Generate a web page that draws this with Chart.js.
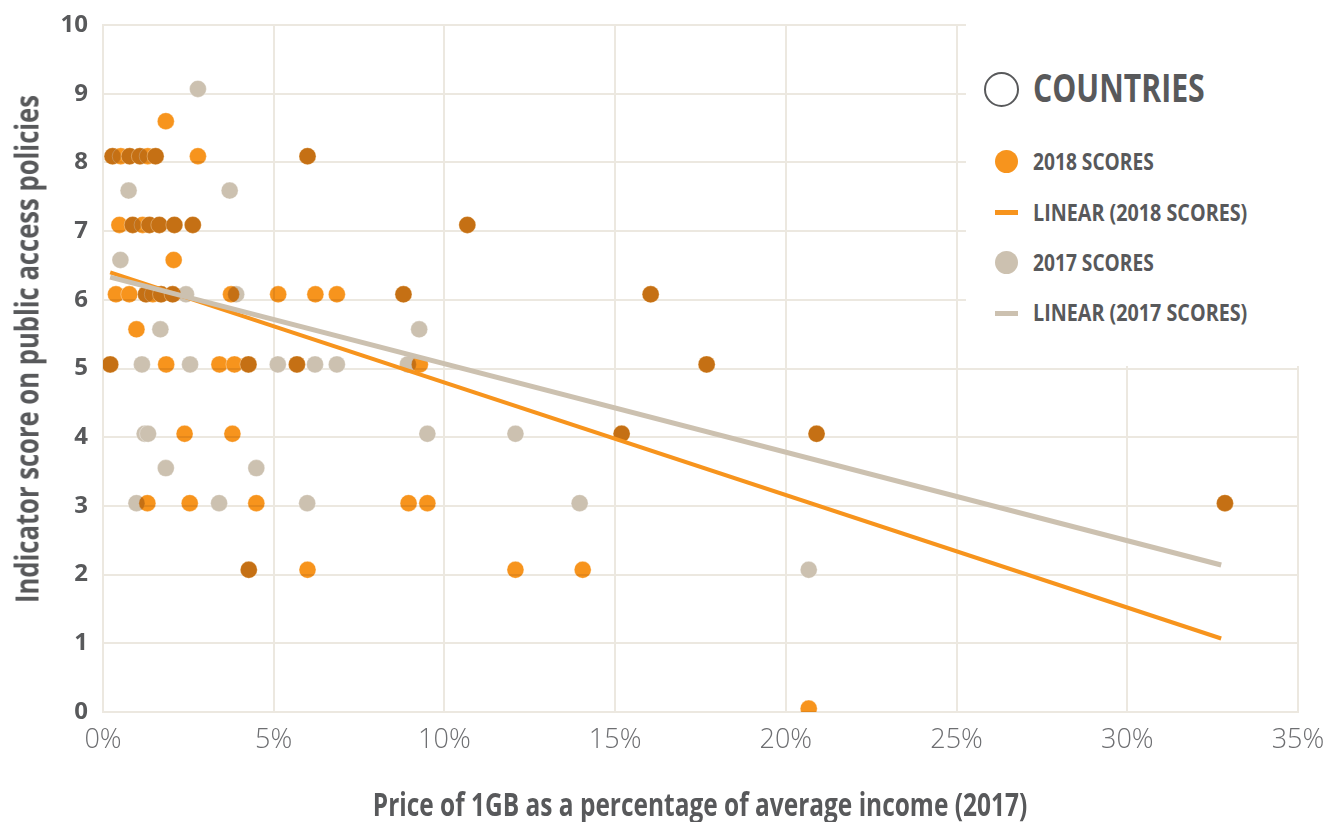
<!DOCTYPE html>
<html>
<head>
<meta charset="utf-8">
<script src="https://cdn.jsdelivr.net/npm/chart.js@4/dist/chart.umd.min.js"></script>
<style>
  html, body { margin: 0; padding: 0; background: #fff; }
  #wrap { position: relative; width: 1330px; height: 822px; background: #fff; overflow: hidden; }
  #wrap canvas { position: absolute; left: 0; top: 0; }
  #blend { mix-blend-mode: multiply; }
  .txt { position: absolute; white-space: nowrap; font-family: 'Open Sans', 'DejaVu Sans', sans-serif;
         font-weight: 700; color: #58595B; line-height: 1; }
  .leg { transform-origin: left center; }
  #legendBox { position: absolute; left: 966px; top: 18px; width: 334px; height: 348px; background: #fff; }
  .ico { position: absolute; box-sizing: border-box; }
</style>
</head>
<body>
<div id="wrap">
  <canvas id="base" width="1330" height="822"></canvas>
  <canvas id="blend" width="1330" height="822"></canvas>
  <canvas id="lines" width="1330" height="822"></canvas>

  <div id="legendBox"></div>
  <div class="ico" style="left:984px;top:71.7px;width:35px;height:35px;border:2.7px solid #58595B;border-radius:50%"></div>
  <div class="txt leg" data-w="172" style="left:1032.7px;top:66.8px;font-size:39px">COUNTRIES</div>

  <div class="ico" style="left:995.2px;top:150.2px;width:23px;height:23px;background:#F7941D;border-radius:50%"></div>
  <div class="txt leg" data-w="121" style="left:1032.7px;top:151.1px;font-size:22.5px">2018 SCORES</div>

  <div class="ico" style="left:995px;top:210.2px;width:23px;height:5px;background:#F7941D"></div>
  <div class="txt leg" data-w="214" style="left:1032.7px;top:201.8px;font-size:22.5px">LINEAR (2018 SCORES)</div>

  <div class="ico" style="left:995.2px;top:251.2px;width:23px;height:23px;background:#CCC1B0;border-radius:50%"></div>
  <div class="txt leg" data-w="121" style="left:1032.7px;top:252.1px;font-size:22.5px">2017 SCORES</div>

  <div class="ico" style="left:995px;top:310.8px;width:23px;height:5px;background:#CCC1B0"></div>
  <div class="txt leg" data-w="214" style="left:1032.7px;top:301.8px;font-size:22.5px">LINEAR (2017 SCORES)</div>

  <div class="txt" data-w="508" data-t="translate(-50%,-50%) rotate(-90deg)" style="left:26px;top:349px;font-size:33px">Indicator score on public access policies</div>
  <div class="txt" data-w="654" data-t="translate(-50%,-50%)" style="left:700px;top:803px;font-size:33px">Price of 1GB as a percentage of average income (2017)</div>
</div>

<script>
// 2018 scores (price of 1GB in % of income, indicator score)
const price2018 = [1.84,
  0.28, 0.52, 0.78, 1.08, 1.31, 1.54, 2.78, 5.99,
  0.48, 0.87, 1.16, 1.36, 1.65, 2.09, 2.63, 10.67,
  2.07,
  0.38, 0.77, 1.26, 1.46, 1.70, 2.04, 3.75, 5.13, 6.22, 6.85, 8.80, 16.04,
  0.98,
  0.21, 1.85, 3.41, 3.85, 4.26, 5.68, 9.28, 17.68,
  2.39, 3.79, 15.19, 20.90,
  1.30, 2.54, 4.49, 8.95, 9.50, 32.86,
  4.27, 5.99, 12.08, 14.05,
  20.67];
const score2018 = [8.60,
  8.09, 8.09, 8.09, 8.09, 8.09, 8.09, 8.09, 8.09,
  7.09, 7.09, 7.09, 7.09, 7.09, 7.09, 7.09, 7.09,
  6.58,
  6.08, 6.08, 6.08, 6.08, 6.08, 6.08, 6.08, 6.08, 6.08, 6.08, 6.08, 6.08,
  5.57,
  5.06, 5.06, 5.06, 5.06, 5.06, 5.06, 5.06, 5.06,
  4.05, 4.05, 4.05, 4.05,
  3.04, 3.04, 3.04, 3.04, 3.04, 3.04,
  2.07, 2.07, 2.07, 2.07,
  0.05];

// 2017 scores
const price2017 = [2.78,
  0.28, 0.78, 1.08, 1.54, 5.99,
  0.75, 3.71,
  0.87, 1.36, 1.65, 2.09, 2.63, 10.67,
  0.51,
  1.26, 1.70, 2.04, 2.43, 3.90, 8.80, 16.04,
  1.68, 9.26,
  0.21, 1.14, 2.55, 4.26, 5.12, 5.68, 6.21, 6.85, 8.93, 17.68,
  1.22, 1.32, 9.50, 12.08, 15.19, 20.90,
  1.84, 4.49,
  0.98, 3.40, 5.98, 13.96, 32.86,
  4.27, 20.67];
const score2017 = [9.07,
  8.09, 8.09, 8.09, 8.09, 8.09,
  7.59, 7.59,
  7.09, 7.09, 7.09, 7.09, 7.09, 7.09,
  6.58,
  6.08, 6.08, 6.08, 6.08, 6.08, 6.08, 6.08,
  5.57, 5.57,
  5.06, 5.06, 5.06, 5.06, 5.06, 5.06, 5.06, 5.06, 5.06, 5.06,
  4.05, 4.05, 4.05, 4.05, 4.05, 4.05,
  3.55, 3.55,
  3.04, 3.04, 3.04, 3.04, 3.04,
  2.07, 2.07];

// linear trend lines, read at both ends
const trendPrice = [0.21, 32.75];
const trend2018 = [6.40, 1.07];
const trend2017 = [6.33, 2.14];

const ORANGE = '#F7941D';
const BEIGE = '#CCC1B0';
const GRID = '#ECE8E0';
const NONE = 'rgba(0,0,0,0)';
const FONT = "'Open Sans', 'DejaVu Sans', sans-serif";

const pts = (xs, ys) => xs.map((x, i) => ({ x: x, y: ys[i] }));

// every layer gets the same axes so the three chart areas line up exactly;
// only the bottom layer paints them
function makeScales(show) {
    return {
        x: {
            type: 'linear', min: 0, max: 35,
            ticks: { stepSize: 5, callback: v => v + '%', color: show ? '#6D6E71' : NONE, padding: 12,
                     font: { family: FONT, size: 27, weight: '300' } },
            grid: { color: show ? GRID : NONE, lineWidth: 2, drawTicks: false },
            border: { color: show ? GRID : NONE, width: 2 },
            afterFit: s => { s.height = 110; s.paddingLeft = 0; s.paddingRight = 0; }
        },
        y: {
            type: 'linear', min: 0, max: 10,
            ticks: { stepSize: 1, color: show ? '#58595B' : NONE, padding: 15,
                     font: { family: FONT, size: 24, weight: 'bold' } },
            grid: { color: show ? GRID : NONE, lineWidth: 2, drawTicks: false },
            border: { color: show ? GRID : NONE, width: 2 },
            afterFit: s => { s.width = 103; s.paddingTop = 0; s.paddingBottom = 0; }
        }
    };
}

function makeChart(id, datasets, show) {
    return new Chart(document.getElementById(id), {
        type: 'scatter',
        data: { datasets: datasets },
        options: {
            responsive: false,
            animation: false,
            events: [],
            layout: { padding: { top: 25, right: 32, left: 0, bottom: 0 } },
            plugins: { legend: { display: false }, tooltip: { enabled: false } },
            scales: makeScales(show)
        }
    });
}

const dotStyle = color => ({
    pointRadius: 8.5, pointHoverRadius: 8.5,
    pointBackgroundColor: color, backgroundColor: color,
    pointBorderColor: 'rgba(255,255,255,0.35)', pointBorderWidth: 1
});

// bottom layer: grid, axes and the 2017 dots
makeChart('base', [
    Object.assign({ label: '2017 Scores', data: pts(price2017, score2017) }, dotStyle(BEIGE))
], true);

// 2018 dots, multiplied over the 2017 ones so shared points turn dark
makeChart('blend', [
    Object.assign({ label: '2018 Scores', data: pts(price2018, score2018) }, dotStyle(ORANGE))
], false);

// trend lines on top
makeChart('lines', [
    { label: 'Linear (2017 Scores)', data: pts(trendPrice, trend2017), showLine: true,
      borderColor: BEIGE, borderWidth: 5, pointRadius: 0 },
    { label: 'Linear (2018 Scores)', data: pts(trendPrice, trend2018), showLine: true,
      borderColor: ORANGE, borderWidth: 4, pointRadius: 0 }
], false);

// squeeze the text to the condensed width of the original
document.querySelectorAll('[data-w]').forEach(el => {
    const s = +el.dataset.w / el.offsetWidth;
    el.style.transform = (el.dataset.t || '') + ' scaleX(' + s.toFixed(3) + ')';
});
</script>
</body>
</html>
